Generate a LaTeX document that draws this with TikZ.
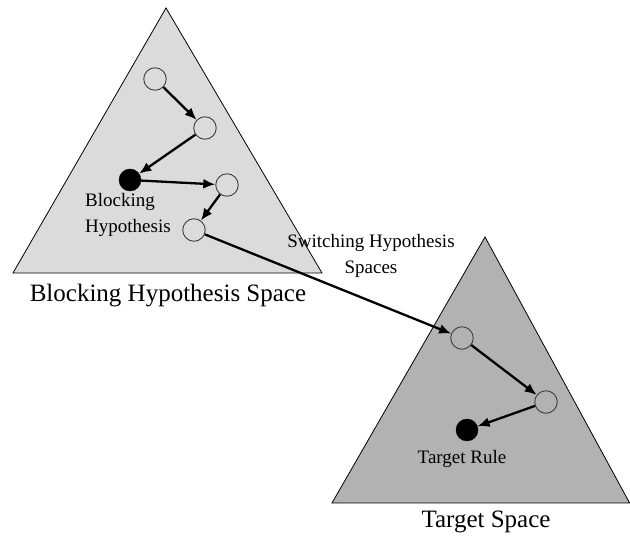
\documentclass[tikz,border=0pt]{standalone}
\usepackage{fontspec}
\setmainfont{Liberation Serif}
\usetikzlibrary{arrows.meta}
\begin{document}
\begin{tikzpicture}[x=1pt,y=-1pt,
  hyp/.style={circle,draw=black!75,line width=0.9pt,fill=none,minimum size=22.5pt,inner sep=0pt},
  sol/.style={circle,fill=black,draw=black,minimum size=22pt,inner sep=0pt},
  move/.style={line width=2.3pt,-{Latex[length=12pt,width=10pt]}},
  small/.style={font=\fontsize{19}{26}\selectfont,inner sep=0pt},
  big/.style={font=\fontsize{25}{30}\selectfont,inner sep=0pt}]
\useasboundingbox (0,0) rectangle (630,537);
% triangles
\draw[fill=black!14,line width=0.8pt] (166,8) -- (13,273) -- (322,273) -- cycle;
\draw[fill=black!30,line width=0.8pt] (485,237) -- (332,503) -- (629.6,503) -- cycle;
% nodes
\node[hyp] (c1) at (155,79) {};
\node[hyp] (c2) at (205,128) {};
\node[sol] (b1) at (130,180) {};
\node[hyp] (c3) at (227,185) {};
\node[hyp] (c4) at (194,230) {};
\node[hyp] (c5) at (462,338) {};
\node[hyp] (c6) at (546,402) {};
\node[sol] (b2) at (467,430) {};
% labels
\node[small,anchor=west,align=left] (lb) at (85,215) {Blocking\\Hypothesis};
\node[small,align=center] (ls) at (371,256) {Switching Hypothesis\\Spaces};
\node[small] (lt) at (462,459) {Target Rule};
\node[big] (sb) at (168,296) {Blocking Hypothesis Space};
\node[big] (st) at (486,522) {Target Space};
% arrows
\draw[move] (c1) -- (c2);
\draw[move] (c2) -- (b1);
\draw[move] (b1) -- (c3);
\draw[move] (c3) -- (c4);
\draw[move] (c4) -- (c5);
\draw[move] (c5) -- (c6);
\draw[move] (c6) -- (b2);
\end{tikzpicture}
\end{document}
